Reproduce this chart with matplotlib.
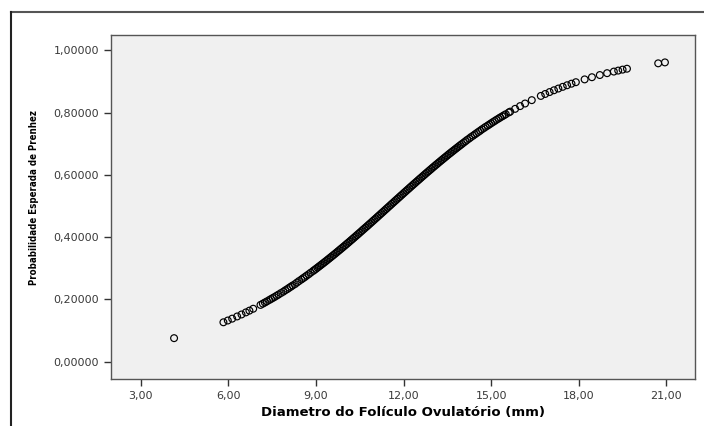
#Probabilidade esperada de prenhez x diametro do foliculo ovulatorio
#Scatter of predicted values (SPSS style)

import numpy as np
import matplotlib.pyplot as plt
from matplotlib.lines import Line2D

#DATA
diam = [4.14,
        5.83, 5.98, 6.13, 6.30, 6.45, 6.60, 6.72, 6.85,
        7.10, 7.25, 7.40, 7.52, 7.65, 7.80, 7.95, 8.08, 8.20, 8.35, 8.50, 8.62, 8.75, 8.90,
        9.00, 9.10, 9.20, 9.30, 9.40, 9.50, 9.60, 9.70, 9.80, 9.90,
        10.00, 10.10, 10.20, 10.30, 10.40, 10.50, 10.60, 10.70, 10.80, 10.90,
        11.00, 11.10, 11.20, 11.30, 11.40, 11.50, 11.60, 11.70, 11.80, 11.90,
        12.00, 12.10, 12.20, 12.30, 12.40, 12.50, 12.60, 12.70, 12.80, 12.90,
        13.00, 13.10, 13.20, 13.30, 13.40, 13.50, 13.60, 13.70, 13.80, 13.90, 14.00,
        14.12, 14.25, 14.38, 14.50, 14.62, 14.75, 14.88, 15.00, 15.12, 15.25, 15.38, 15.50, 15.60,
        15.65, 15.82, 15.99, 16.16, 16.39,
        16.70, 16.85, 17.00, 17.15, 17.30, 17.45, 17.60, 17.75, 17.90,
        18.20, 18.45, 18.72, 18.97,
        19.20, 19.35, 19.50, 19.65,
        20.72, 20.95]

prob = [0.0752,
        0.1262, 0.1319, 0.1379, 0.1449, 0.1513, 0.1580, 0.1636, 0.1697,
        0.1820, 0.1897, 0.1977, 0.2042, 0.2115, 0.2201, 0.2290, 0.2369, 0.2443, 0.2539, 0.2637, 0.2717, 0.2805, 0.2909,
        0.2980, 0.3052, 0.3124, 0.3197, 0.3272, 0.3347, 0.3423, 0.3500, 0.3578, 0.3656,
        0.3735, 0.3815, 0.3896, 0.3977, 0.4059, 0.4141, 0.4225, 0.4307, 0.4390, 0.4474,
        0.4558, 0.4643, 0.4728, 0.4812, 0.4898, 0.4983, 0.5068, 0.5153, 0.5237, 0.5322,
        0.5407, 0.5491, 0.5575, 0.5659, 0.5742, 0.5825, 0.5907, 0.5989, 0.6071, 0.6151,
        0.6232, 0.6311, 0.6390, 0.6468, 0.6545, 0.6622, 0.6697, 0.6772, 0.6846, 0.6919, 0.6991,
        0.7077, 0.7167, 0.7256, 0.7336, 0.7415, 0.7499, 0.7580, 0.7655, 0.7728, 0.7804, 0.7878, 0.7946, 0.8001,
        0.8028, 0.8118, 0.8206, 0.8289, 0.8397,
        0.8533, 0.8596, 0.8657, 0.8715, 0.8770, 0.8825, 0.8876, 0.8926, 0.8974,
        0.9064, 0.9134, 0.9204, 0.9264,
        0.9315, 0.9347, 0.9378, 0.9407,
        0.9580, 0.9610]

#extra cases in the dense part of the curve
diam_mid = [7.18, 7.32, 7.46, 7.58, 7.72, 7.88, 8.02, 8.14, 8.28, 8.42, 8.56, 8.68, 8.82, 8.95,
            9.05, 9.15, 9.25, 9.35, 9.45, 9.55, 9.65, 9.75, 9.85, 9.95,
            10.05, 10.15, 10.25, 10.35, 10.45, 10.55, 10.65, 10.75, 10.85, 10.95,
            11.05, 11.15, 11.25, 11.35, 11.45, 11.55, 11.65, 11.75, 11.85, 11.95,
            12.05, 12.15, 12.25, 12.35, 12.45, 12.55, 12.65, 12.75, 12.85, 12.95,
            13.05, 13.15, 13.25, 13.35, 13.45, 13.55, 13.65, 13.75, 13.85, 13.95,
            14.06, 14.18, 14.31, 14.44, 14.56, 14.68, 14.81, 14.94, 15.06, 15.18, 15.31, 15.44]

prob_mid = [0.1861, 0.1934, 0.2010, 0.2074, 0.2153, 0.2245, 0.2329, 0.2406, 0.2488, 0.2587, 0.2677, 0.2760, 0.2856, 0.2945,
            0.3016, 0.3088, 0.3160, 0.3234, 0.3310, 0.3385, 0.3461, 0.3539, 0.3617, 0.3695,
            0.3775, 0.3855, 0.3936, 0.4018, 0.4100, 0.4183, 0.4266, 0.4348, 0.4432, 0.4516,
            0.4600, 0.4685, 0.4770, 0.4855, 0.4940, 0.5025, 0.5110, 0.5195, 0.5280, 0.5364,
            0.5449, 0.5533, 0.5617, 0.5700, 0.5783, 0.5866, 0.5948, 0.6030, 0.6111, 0.6191,
            0.6271, 0.6350, 0.6429, 0.6506, 0.6583, 0.6660, 0.6735, 0.6809, 0.6882, 0.6955,
            0.7034, 0.7122, 0.7212, 0.7296, 0.7376, 0.7457, 0.7540, 0.7618, 0.7692, 0.7766, 0.7841, 0.7912]

xticks = [3, 6, 9, 12, 15, 18, 21]
yticks = [0.0, 0.2, 0.4, 0.6, 0.8, 1.0]

#FIGURE
W, H = 704, 426
fig = plt.figure(figsize=(W/100, H/100), dpi=100)

#outer frame (top and left edges visible)
fig.add_artist(Line2D([11/W, 1.0], [1-12/H, 1-12/H], color='#555555', lw=1.5))
fig.add_artist(Line2D([11/W, 11/W], [0.0, 1-12/H], color='#222222', lw=1.5))

ax = fig.add_axes([111/W, 1-379/H, 584/W, 344/H])
ax.set_facecolor('#f0f0f0')
ax.scatter(diam + diam_mid, prob + prob_mid, s=24, facecolors='none',
           edgecolors='black', linewidths=0.85, zorder=3)

ax.set_xlim(1.98, 21.98)
ax.set_ylim(-0.056, 1.049)
ax.set_xticks(xticks)
ax.set_xticklabels([f"{v:.2f}".replace('.', ',') for v in xticks])
ax.set_yticks(yticks)
ax.set_yticklabels([f"{v:.5f}".replace('.', ',') for v in yticks])
ax.tick_params(direction='out', length=5, width=1, color='#333333',
               labelsize=8, labelcolor='#3a3a3a')

for s in ax.spines.values():
    s.set_color('#555555')
    s.set_linewidth(1)

ax.set_xlabel('Diametro do Folículo Ovulatório (mm)', fontsize=9.5, fontweight='bold',
              family='DejaVu Sans', labelpad=4)
ax.set_ylabel('Probabilidade Esperada de Prenhez', fontsize=6.9, fontweight='bold',
              family='DejaVu Sans', fontstretch='condensed')
ax.yaxis.set_label_coords(-0.123, 0.528)

plt.savefig('out.png', dpi=100)
